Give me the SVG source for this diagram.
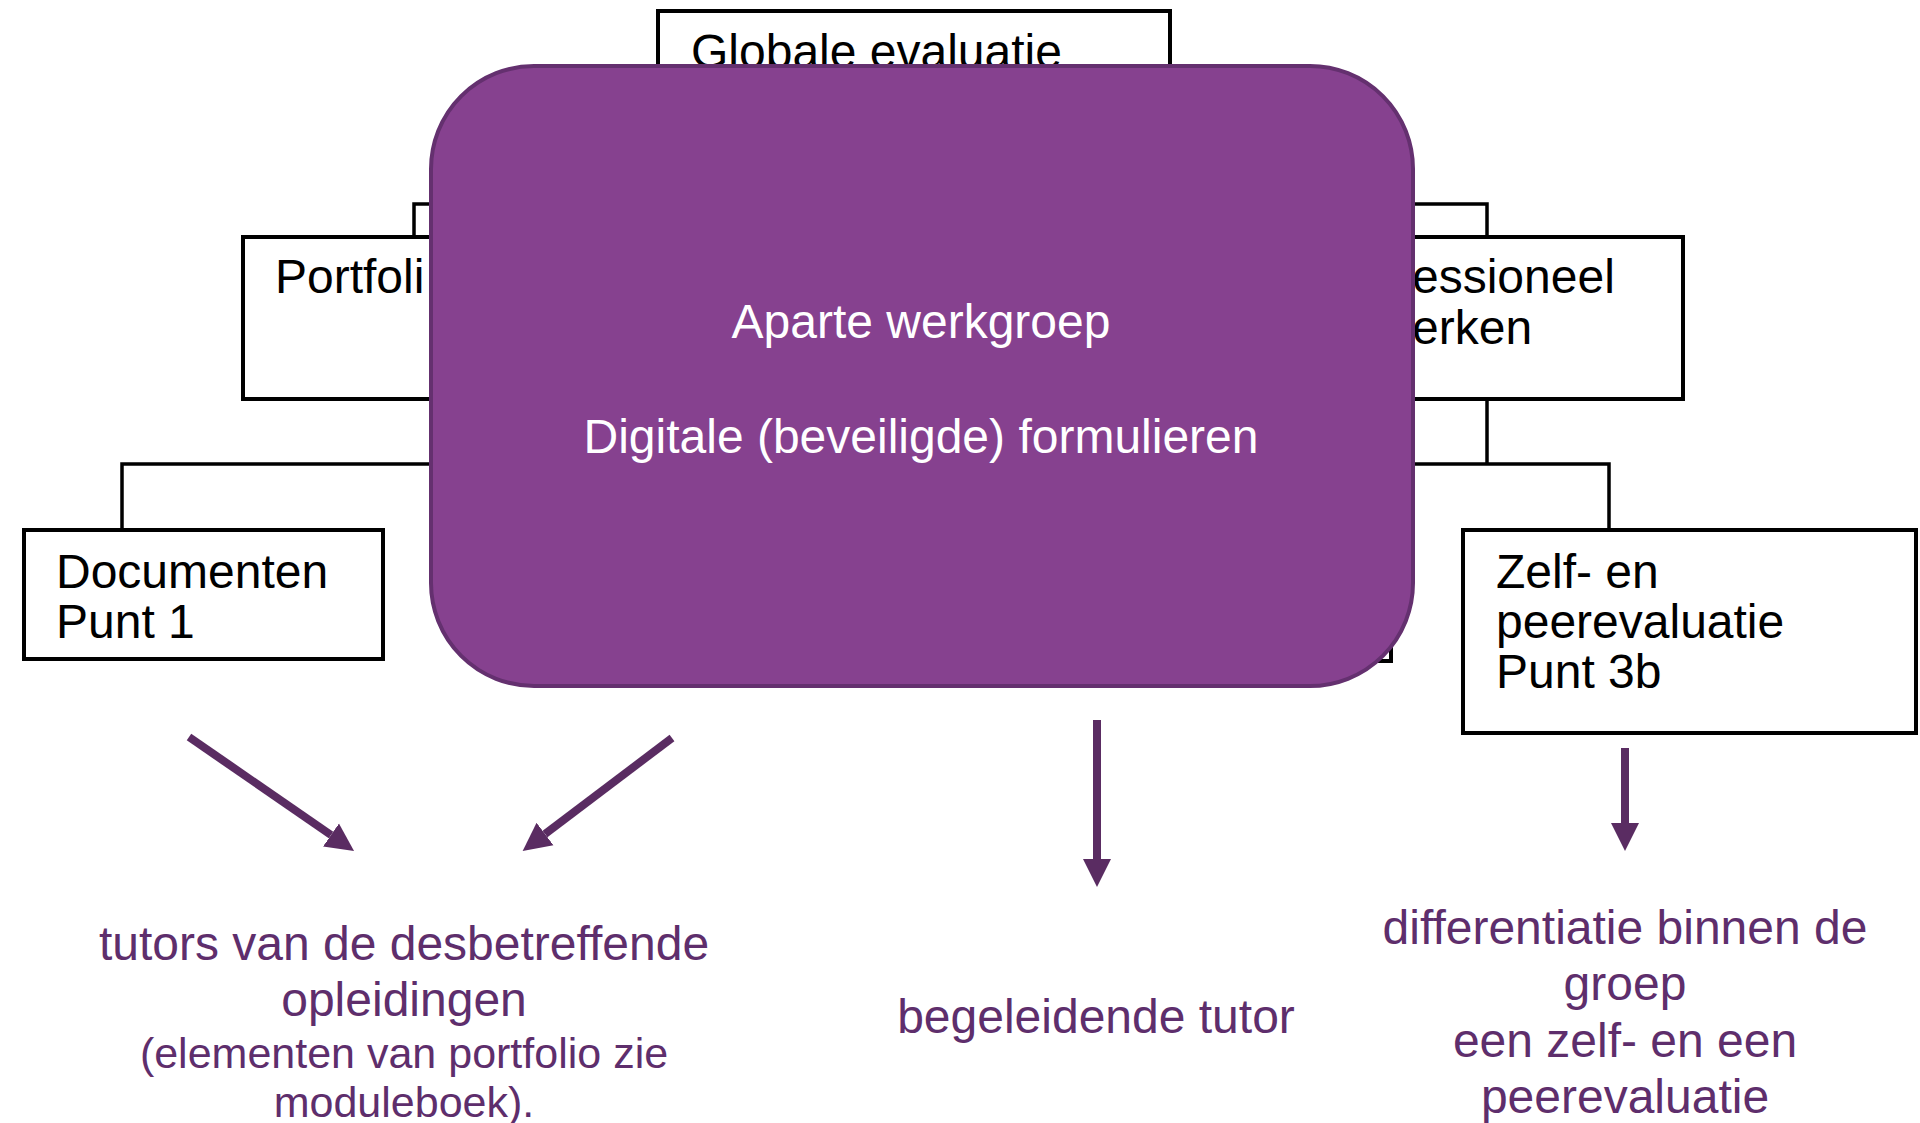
<svg xmlns="http://www.w3.org/2000/svg" width="1920" height="1123" viewBox="0 0 1920 1123">
<defs>
<style>
.box{fill:#fff;stroke:#000;stroke-width:4}
.conn{fill:none;stroke:#000;stroke-width:3.5}
.bt{font-family:"Liberation Sans",Arial,sans-serif;font-size:48px;fill:#000}
.wt{font-family:"Liberation Sans",Arial,sans-serif;font-size:48px;fill:#fff;text-anchor:middle}
.pt{font-family:"Liberation Sans",Arial,sans-serif;font-size:48px;fill:#5E2E6C;text-anchor:middle}
.arr{fill:none;stroke:#5A2C62;stroke-width:8;marker-end:url(#ah)}
</style>
<marker id="ah" markerUnits="userSpaceOnUse" markerWidth="30" markerHeight="30" refX="0" refY="14" orient="auto" viewBox="0 0 30 28">
<path d="M0,0 L28,14 L0,28 z" fill="#5A2C62"/>
</marker>
</defs>
<rect width="1920" height="1123" fill="#fff"/>
<g id="connectors">
<path class="conn" d="M414,237 V204 H1487 V237"/>
<path class="conn" d="M1487,399 V464"/>
<path class="conn" d="M122,530 V464 H1609 V530"/>
</g>
<g id="globale">
<rect class="box" x="658" y="11" width="512" height="150"/>
<text class="bt" x="691" y="68">Globale evaluatie</text>
</g>
<g id="portfolio">
<rect class="box" x="243" y="237" width="392" height="162"/>
<text class="bt" x="275" y="293">Portfoli</text>
</g>
<g id="professioneel">
<rect class="box" x="1291" y="237" width="392" height="162"/>
<text class="bt" x="1412" y="293">essioneel</text>
<text class="bt" x="1412" y="344">erken</text>
</g>
<g id="documenten">
<rect class="box" x="24" y="530" width="359" height="129"/>
<text class="bt" x="56" y="588">Documenten</text>
<text class="bt" x="56" y="638">Punt 1</text>
</g>
<g id="hidden-box">
<rect class="box" x="1010" y="530" width="381" height="131"/>
</g>
<g id="zelf">
<rect class="box" x="1463" y="530" width="453" height="203"/>
<text class="bt" x="1496" y="588">Zelf- en</text>
<text class="bt" x="1496" y="638">peerevaluatie</text>
<text class="bt" x="1496" y="688">Punt 3b</text>
</g>
<g id="werkgroep">
<rect x="431" y="66" width="982" height="620" rx="103" ry="103" fill="#86418F" stroke="#64306F" stroke-width="4"/>
<text class="wt" x="921" y="338">Aparte werkgroep</text>
<text class="wt" x="921" y="453">Digitale (beveiligde) formulieren</text>
</g>
<g id="arrows">
<path class="arr" d="M189,737 L331,835"/>
<path class="arr" d="M672,738 L545,834"/>
<path class="arr" d="M1097,720 V859"/>
<path class="arr" d="M1625,748 V823"/>
</g>
<g id="label-tutors">
<text class="pt" x="404" y="960">tutors van de desbetreffende</text>
<text class="pt" x="404" y="1016">opleidingen</text>
<text class="pt" x="404" y="1068" style="font-size:43px">(elementen van portfolio zie</text>
<text class="pt" x="404" y="1117" style="font-size:43px">moduleboek).</text>
</g>
<g id="label-begeleidend">
<text class="pt" x="1096" y="1033">begeleidende tutor</text>
</g>
<g id="label-differentiatie">
<text class="pt" x="1625" y="944">differentiatie binnen de</text>
<text class="pt" x="1625" y="1000">groep</text>
<text class="pt" x="1625" y="1057">een zelf- en een</text>
<text class="pt" x="1625" y="1113">peerevaluatie</text>
</g>
</svg>
